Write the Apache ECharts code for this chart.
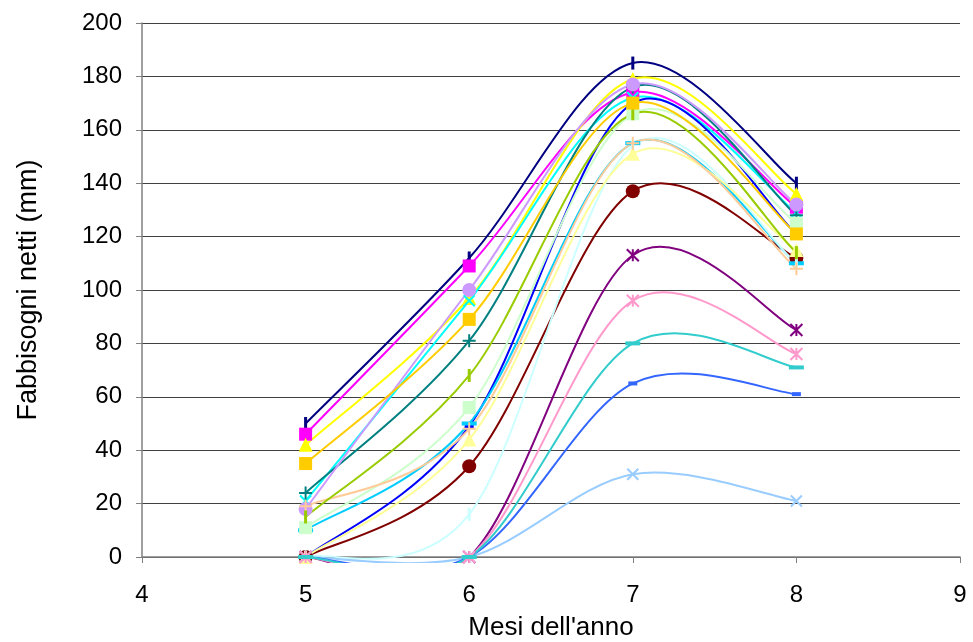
<!DOCTYPE html>
<html>
<head>
<meta charset="utf-8">
<script src="https://cdn.jsdelivr.net/npm/echarts@6/dist/echarts.min.js"></script>
<style>
  html, body { margin: 0; padding: 0; background: #fff; }
  #chart { width: 973px; height: 642px; }
</style>
</head>
<body>
<div id="chart"></div>
<script>
// mesi (asse x)
const mesi = [5, 6, 7, 8];

// fabbisogni netti (mm) per ciascuna serie
const s01 = [50, 112, 185, 140];
const s02 = [46, 109, 174, 131];
const s03 = [42, 97, 179, 136];
const s04 = [21, 96, 172, 129];
const s05 = [0, 0, 113, 85];
const s06 = [0, 34, 137, 112];
const s07 = [24, 81, 176, 128];
const s08 = [0, 49, 170, 121];
const s09 = [10, 50, 155, 110];
const s10 = [0, 16, 154, 110];
const s11 = [11, 56, 166, 125];
const s12 = [0, 44, 151, 115];
const s13 = [0, 0, 31, 21];
const s14 = [0, 0, 96, 76];
const s15 = [18, 100, 177, 132];
const s16 = [19, 48, 155, 108];
const s17 = [0, 0, 65, 61];
const s18 = [0, 0, 80, 71];
const s19 = [15, 68, 166, 114];
const s20 = [35, 89, 170, 121];

const valori = [s01, s02, s03, s04, s05, s06, s07, s08, s09, s10,
                s11, s12, s13, s14, s15, s16, s17, s18, s19, s20];

// colori predefiniti Excel
const colori = ['#000080', '#FF00FF', '#FFFF00', '#00FFFF', '#800080', '#800000',
                '#008080', '#0000FF', '#00CCFF', '#CCFFFF', '#CCFFCC', '#FFFF99',
                '#99CCFF', '#FF99CC', '#CC99FF', '#FFCC99', '#3366FF', '#33CCCC',
                '#99CC00', '#FFCC00'];

// marcatori (ciclo di 9 come in Excel)
const marcatori = [
    { symbol: 'rect', size: [3, 13], stroke: false },
    { symbol: 'rect', size: 13, stroke: false },
    { symbol: 'triangle', size: 14, stroke: false },
    { symbol: 'path://M0,0L10,10M10,0L0,10', size: 11, stroke: true },
    { symbol: 'path://M5,0L5,10M0,0L10,10M10,0L0,10', size: 12, stroke: true },
    { symbol: 'circle', size: 14, stroke: false },
    { symbol: 'path://M5,0L5,10M0,5L10,5', size: 13, stroke: true },
    { symbol: 'rect', size: [9, 4], stroke: false },
    { symbol: 'rect', size: [15, 4], stroke: false }
];

const chart = echarts.init(document.getElementById('chart'));

// linea smussata come in Excel (Bezier con tangenti (P[i+1]-P[i-1])/6),
// tagliata poco sotto l'area del grafico
function curvaSmussata(punti, colore) {
    return function (params, api) {
        const j = params.dataIndex;
        if (j >= punti.length - 1) return null;
        const p = function (k) {
            k = Math.max(0, Math.min(punti.length - 1, k));
            return api.coord(punti[k]);
        };
        const p0 = p(j - 1), p1 = p(j), p2 = p(j + 1), p3 = p(j + 2);
        const cs = params.coordSys;
        return {
            type: 'group',
            children: [{
                type: 'bezierCurve',
                shape: {
                    x1: p1[0], y1: p1[1],
                    cpx1: p1[0] + (p2[0] - p0[0]) / 6,
                    cpy1: p1[1] + (p2[1] - p0[1]) / 6,
                    cpx2: p2[0] - (p3[0] - p1[0]) / 6,
                    cpy2: p2[1] - (p3[1] - p1[1]) / 6,
                    x2: p2[0], y2: p2[1]
                },
                style: { stroke: colore, fill: null, lineWidth: 2 }
            }],
            clipPath: {
                type: 'rect',
                shape: { x: cs.x, y: cs.y - 10, width: cs.width, height: cs.height + 16 }
            }
        };
    };
}

const series = [];
valori.forEach(function (v, i) {
    const m = marcatori[i % 9];
    const punti = mesi.map(function (x, j) { return [x, v[j]]; });
    series.push({
        type: 'custom',
        coordinateSystem: 'cartesian2d',
        data: punti,
        encode: { x: 0, y: 1 },
        renderItem: curvaSmussata(punti, colori[i]),
        silent: true
    });
    series.push({
        type: 'scatter',
        data: punti,
        symbol: m.symbol,
        symbolSize: m.size,
        itemStyle: {
            color: colori[i],
            borderColor: colori[i],
            borderWidth: m.stroke ? 2 : 0,
            opacity: 1
        },
        emphasis: { disabled: true },
        silent: true
    });
});

const option = {
    animation: false,
    backgroundColor: '#fff',
    textStyle: { fontFamily: 'Liberation Sans' },
    grid: { left: 142, right: 13, top: 23, bottom: 85, outerBoundsMode: 'none', containLabel: false },
    xAxis: {
        type: 'value',
        min: 4,
        max: 9,
        interval: 1,
        name: "Mesi dell'anno",
        nameLocation: 'middle',
        nameGap: 58,
        nameTextStyle: { fontSize: 26, color: '#000' },
        axisLine: { lineStyle: { color: '#808080', width: 1.5 } },
        axisTick: { show: true, length: 6, lineStyle: { color: '#808080' } },
        axisLabel: { fontSize: 24, color: '#000', margin: 26 },
        splitLine: { show: false }
    },
    yAxis: {
        type: 'value',
        min: 0,
        max: 200,
        interval: 20,
        name: 'Fabbisogni netti (mm)',
        nameLocation: 'middle',
        nameGap: 100,
        nameTextStyle: { fontSize: 27, color: '#000' },
        axisLine: { show: true, lineStyle: { color: '#808080', width: 1.5 } },
        axisTick: { show: true, length: 6, lineStyle: { color: '#808080' } },
        axisLabel: { fontSize: 24, color: '#000', margin: 20 },
        splitLine: { show: true, lineStyle: { color: '#404040', width: 1 } }
    },
    series: series
};

chart.setOption(option);
</script>
</body>
</html>
